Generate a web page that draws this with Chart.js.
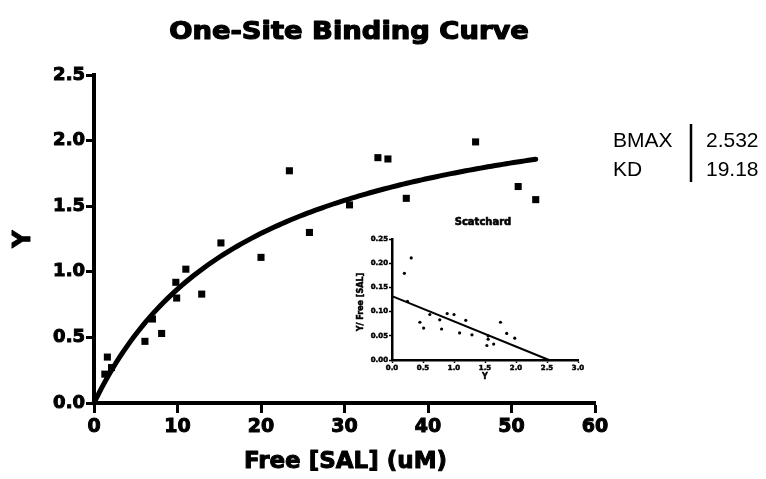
<!DOCTYPE html>
<html>
<head>
<meta charset="utf-8">
<title>One-Site Binding Curve</title>
<script src="https://cdn.jsdelivr.net/npm/chart.js@4.4.1/dist/chart.umd.min.js"></script>
<style>
  html, body { margin: 0; padding: 0; background: #fff; }
  #wrap { position: relative; width: 766px; height: 479px; }
  #mainChart { position: absolute; left: 0; top: 0; }
  #scatChart { position: absolute; left: 350px; top: 205px; }
</style>
</head>
<body>
<div id="wrap">
  <canvas id="mainChart" width="766" height="479"></canvas>
  <canvas id="scatChart" width="250" height="185"></canvas>
</div>
<script>
// Saturation binding data: free ligand (uM) vs bound Y
const freeSAL = [1.3, 1.6, 2.1, 6.1, 7.0, 8.1, 9.8, 9.9, 11.0, 12.9, 15.2, 20.0, 23.4, 25.8, 30.6, 34.0, 35.2, 37.4, 45.7, 50.8, 52.9];
const boundY = [0.22, 0.35, 0.27, 0.47, 0.64, 0.53, 0.92, 0.80, 1.02, 0.83, 1.22, 1.11, 1.77, 1.30, 1.51, 1.87, 1.86, 1.56, 1.99, 1.65, 1.55];

// Fitted parameters
const BMAX = 2.532;
const KD = 19.18;

// Scatchard transform points (Y vs Y/Free)
const scatY = [0.20, 0.31, 0.25, 0.45, 0.51, 0.61, 0.77, 0.80, 0.89, 1.00, 1.09, 1.19, 1.29, 1.53, 1.55, 1.55, 1.64, 1.75, 1.85, 1.98];
const scatRatio = [0.179, 0.211, 0.121, 0.078, 0.066, 0.094, 0.083, 0.064, 0.096, 0.094, 0.056, 0.082, 0.052, 0.030, 0.043, 0.050, 0.033, 0.078, 0.055, 0.045];

// Tick labels
const xTicksMain = [0, 10, 20, 30, 40, 50, 60];
const yTicksMain = ['0.0', '0.5', '1.0', '1.5', '2.0', '2.5'];
const xTicksScat = ['0.0', '0.5', '1.0', '1.5', '2.0', '2.5', '3.0'];
const yTicksScat = ['0.00', '0.05', '0.10', '0.15', '0.20', '0.25'];

const FONT = '"DejaVu Sans", "Liberation Sans", Arial, sans-serif';

// One-site hyperbola from the fitted BMAX / KD, drawn up to the last measured point
const xEnd = Math.max(...freeSAL);
const fitCurve = [];
for (let i = 0; i <= 120; i++) {
    const x = xEnd * i / 120;
    fitCurve.push({ x: x, y: BMAX * x / (KD + x) });
}

const points = freeSAL.map((x, i) => ({ x: x, y: boundY[i] }));

// heavy text: fill plus a thin outline of the same colour
function heavyText(ctx, text, x, y, stroke) {
    ctx.lineWidth = stroke;
    ctx.lineJoin = 'round';
    ctx.strokeText(text, x, y);
    ctx.fillText(text, x, y);
}

// Draws title, axis titles and the parameter table
const mainText = {
    id: 'mainText',
    afterDraw(chart) {
        const ctx = chart.ctx;
        const area = chart.chartArea;
        ctx.save();
        ctx.fillStyle = '#000';
        ctx.strokeStyle = '#000';
        ctx.textAlign = 'center';
        ctx.textBaseline = 'middle';

        // title, slightly widened like the heavy original face
        ctx.save();
        ctx.translate(349, 33);
        ctx.scale(1.14, 1);
        ctx.font = 'bold 24px ' + FONT;
        heavyText(ctx, 'One-Site Binding Curve', 0, 0, 1.2);
        ctx.restore();

        // x axis title
        ctx.font = 'bold 23px ' + FONT;
        heavyText(ctx, 'Free [SAL] (uM)', (area.left + area.right) / 2 + 1, 462, 1);

        // y axis title
        ctx.save();
        ctx.translate(24, 239);
        ctx.rotate(-Math.PI / 2);
        ctx.font = 'bold 24px ' + FONT;
        heavyText(ctx, 'Y', 0, 0, 1);
        ctx.restore();

        // parameter table
        ctx.textAlign = 'left';
        ctx.font = '21px "Liberation Sans", Arial, sans-serif';
        ctx.fillText('BMAX', 613, 141);
        ctx.fillText('KD', 613, 170);
        ctx.fillText(BMAX.toFixed(3), 706, 141);
        ctx.fillText(KD.toFixed(2), 706, 170);
        ctx.lineWidth = 2.5;
        ctx.beginPath();
        ctx.moveTo(691, 124);
        ctx.lineTo(691, 182);
        ctx.stroke();
        ctx.restore();
    }
};

new Chart(document.getElementById('mainChart'), {
    type: 'scatter',
    data: {
        datasets: [{
            label: 'Data',
            data: points,
            pointStyle: 'rect',
            pointRadius: 5,
            backgroundColor: '#000',
            borderColor: '#000',
            borderWidth: 0,
            clip: false
        }, {
            label: 'One-site fit',
            data: fitCurve,
            showLine: true,
            pointRadius: 0,
            borderColor: '#000',
            borderWidth: 5,
            borderCapStyle: 'round',
            tension: 0,
            clip: false
        }]
    },
    options: {
        responsive: false,
        animation: false,
        events: [],
        layout: { padding: { left: 0, top: 75, right: 171, bottom: 0 } },
        plugins: { legend: { display: false }, tooltip: { enabled: false }, title: { display: false } },
        scales: {
            x: {
                type: 'linear',
                min: 0,
                max: 60,
                afterFit(scale) { scale.height = 76; },
                afterBuildTicks(scale) { scale.ticks = xTicksMain.map(v => ({ value: v })); },
                ticks: {
                    color: '#000',
                    textStrokeColor: '#000',
                    textStrokeWidth: 1,
                    padding: 3,
                    font: { family: FONT, size: 19, weight: 'bold' },
                    callback: v => String(v)
                },
                grid: { display: true, drawOnChartArea: false, drawTicks: true, tickLength: 10, tickWidth: 3, tickColor: '#000' },
                border: { display: true, width: 4, color: '#000' }
            },
            y: {
                type: 'linear',
                min: 0,
                max: 2.5,
                afterFit(scale) { scale.width = 94; },
                afterBuildTicks(scale) { scale.ticks = yTicksMain.map(v => ({ value: parseFloat(v) })); },
                ticks: {
                    color: '#000',
                    textStrokeColor: '#000',
                    textStrokeWidth: 1,
                    padding: 1,
                    font: { family: FONT, size: 18, weight: 'bold' },
                    callback: (v, i) => yTicksMain[i]
                },
                grid: { display: true, drawOnChartArea: false, drawTicks: true, tickLength: 8, tickWidth: 3, tickColor: '#000' },
                border: { display: true, width: 4, color: '#000' }
            }
        }
    },
    plugins: [mainText]
});

// Inset Scatchard plot titles
const scatText = {
    id: 'scatText',
    afterDraw(chart) {
        const ctx = chart.ctx;
        ctx.save();
        ctx.fillStyle = '#000';
        ctx.strokeStyle = '#000';
        ctx.textAlign = 'center';
        ctx.textBaseline = 'middle';
        ctx.font = 'bold 10px ' + FONT;
        heavyText(ctx, 'Scatchard', 133, 17, 0.6);
        ctx.font = 'bold 8px ' + FONT;
        heavyText(ctx, 'Y', 135, 172, 0.5);
        ctx.translate(11, 97);
        ctx.rotate(-Math.PI / 2);
        heavyText(ctx, 'Y/ Free [SAL]', 0, 0, 0.5);
        ctx.restore();
    }
};

const scatPoints = scatY.map((x, i) => ({ x: x, y: scatRatio[i] }));
// Scatchard line: intercept BMAX/KD, slope -1/KD, reaching zero at BMAX
const scatLine = [{ x: 0, y: BMAX / KD }, { x: BMAX, y: 0 }];

new Chart(document.getElementById('scatChart'), {
    type: 'scatter',
    data: {
        datasets: [{
            label: 'Scatchard',
            data: scatPoints,
            pointRadius: 1.6,
            backgroundColor: '#000',
            borderWidth: 0,
            clip: false
        }, {
            label: 'Scatchard fit',
            data: scatLine,
            showLine: true,
            pointRadius: 0,
            borderColor: '#000',
            borderWidth: 2,
            clip: false
        }]
    },
    options: {
        responsive: false,
        animation: false,
        events: [],
        layout: { padding: { left: 0, top: 34, right: 22, bottom: 0 } },
        plugins: { legend: { display: false }, tooltip: { enabled: false }, title: { display: false } },
        scales: {
            x: {
                type: 'linear',
                min: 0,
                max: 3,
                afterFit(scale) { scale.height = 30; },
                afterBuildTicks(scale) { scale.ticks = xTicksScat.map(v => ({ value: parseFloat(v) })); },
                ticks: {
                    color: '#000',
                    textStrokeColor: '#000',
                    textStrokeWidth: 0.5,
                    padding: 1,
                    font: { family: FONT, size: 7, weight: 'bold' },
                    callback: (v, i) => xTicksScat[i]
                },
                grid: { display: true, drawOnChartArea: false, drawTicks: true, tickLength: 3, tickWidth: 1.5, tickColor: '#000' },
                border: { display: true, width: 2.5, color: '#000' }
            },
            y: {
                type: 'linear',
                min: 0,
                max: 0.25,
                afterFit(scale) { scale.width = 42; },
                afterBuildTicks(scale) { scale.ticks = yTicksScat.map(v => ({ value: parseFloat(v) })); },
                ticks: {
                    color: '#000',
                    textStrokeColor: '#000',
                    textStrokeWidth: 0.5,
                    padding: 1,
                    font: { family: FONT, size: 7, weight: 'bold' },
                    callback: (v, i) => yTicksScat[i]
                },
                grid: { display: true, drawOnChartArea: false, drawTicks: true, tickLength: 3, tickWidth: 1.5, tickColor: '#000' },
                border: { display: true, width: 2.5, color: '#000' }
            }
        }
    },
    plugins: [scatText]
});
</script>
</body>
</html>
